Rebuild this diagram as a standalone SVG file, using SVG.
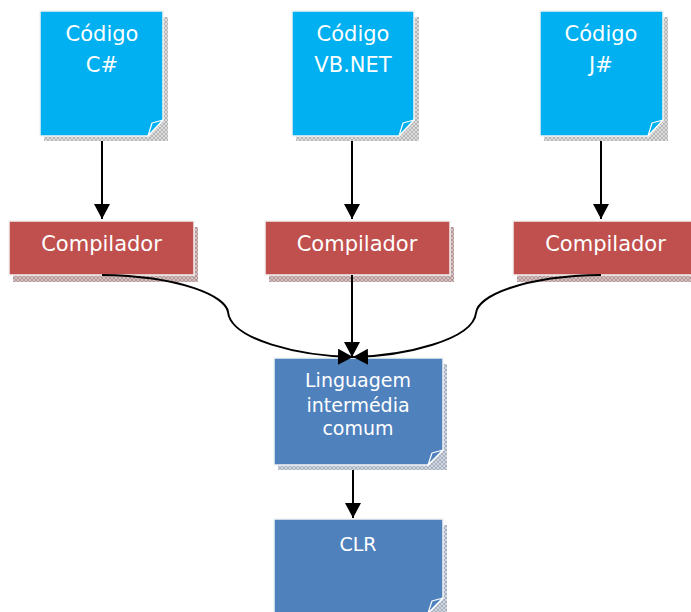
<svg xmlns="http://www.w3.org/2000/svg" width="691" height="612" viewBox="0 0 691 612">
<defs>
<pattern id="hGray" width="4" height="4" patternUnits="userSpaceOnUse"><rect width="4" height="4" fill="#dcdcdc"/><path d="M0,0 L4,4 M4,0 L0,4" stroke="#a8a8a8" stroke-width="0.7"/></pattern>
<pattern id="hRed" width="4" height="4" patternUnits="userSpaceOnUse"><rect width="4" height="4" fill="#d4c0c0"/><path d="M0,0 L4,4 M4,0 L0,4" stroke="#a88888" stroke-width="0.7"/></pattern>
<pattern id="hBlue" width="4" height="4" patternUnits="userSpaceOnUse"><rect width="4" height="4" fill="#d0d6e0"/><path d="M0,0 L4,4 M4,0 L0,4" stroke="#9aa4b4" stroke-width="0.7"/></pattern>
<marker id="ah" markerWidth="16" markerHeight="16" refX="15" refY="8" orient="auto" markerUnits="userSpaceOnUse"><path d="M0,0 L15,8 L0,16 Z" fill="#000"/></marker>
</defs>
<style>
.doc{fill:#00b0f0;stroke:#f4f4f4;stroke-width:1.5}
.cmp{fill:#c0504d;stroke:#f4f4f4;stroke-width:1.5}
.il{fill:#4f81bd;stroke:#f4f4f4;stroke-width:1.5}
.t{font-family:"DejaVu Sans",sans-serif;fill:#ffffff;text-anchor:middle}
.t1{font-size:21px}
.t2{font-size:19px}
.ln{fill:none;stroke:#000;stroke-width:2;marker-end:url(#ah)}
.flap{stroke:#ffffff;stroke-width:1.2;stroke-linejoin:round}
</style>

<g id="doc-cs">
<path d="M44,17 H168 V141 H44 Z" fill="url(#hGray)"/>
<path class="doc" d="M40,11 H163 V120 L148,136 H40 Z"/>
<path class="flap" d="M148,136 L152,123 L163,120 Z" fill="#00b0f0"/>
<text class="t t1" x="102" y="41">Código</text>
<text class="t t1" x="102" y="72">C#</text>
</g>

<g id="doc-vb">
<path d="M296,17 H419 V141 H296 Z" fill="url(#hGray)"/>
<path class="doc" d="M292,11 H414 V120 L399,136 H292 Z"/>
<path class="flap" d="M399,136 L403,123 L414,120 Z" fill="#00b0f0"/>
<text class="t t1" x="353" y="41">Código</text>
<text class="t t1" x="353" y="72">VB.NET</text>
</g>

<g id="doc-js">
<path d="M544,17 H668 V141 H544 Z" fill="url(#hGray)"/>
<path class="doc" d="M540,11 H663 V120 L648,136 H540 Z"/>
<path class="flap" d="M648,136 L652,123 L663,120 Z" fill="#00b0f0"/>
<text class="t t1" x="601" y="41">Código</text>
<text class="t t1" x="601" y="72">J#</text>
</g>

<g id="comp1">
<rect x="13" y="227" width="185" height="55" fill="url(#hRed)"/>
<rect class="cmp" x="9" y="221" width="185" height="54"/>
<text class="t t1" x="101.5" y="251">Compilador</text>
</g>

<g id="comp2">
<rect x="269" y="227" width="185" height="55" fill="url(#hRed)"/>
<rect class="cmp" x="265" y="221" width="185" height="54"/>
<text class="t t1" x="357" y="251">Compilador</text>
</g>

<g id="comp3">
<rect x="517" y="227" width="185" height="55" fill="url(#hRed)"/>
<rect class="cmp" x="513" y="221" width="185" height="54"/>
<text class="t t1" x="605.5" y="251">Compilador</text>
</g>

<g id="il">
<path d="M278,364 H447 V470 H278 Z" fill="url(#hBlue)"/>
<path class="il" d="M274,358 H443 V450 L428,465 H274 Z"/>
<path class="flap" d="M428,465 L432,453 L443,450 Z" fill="#4f81bd"/>
<text class="t t2" x="358" y="387">Linguagem</text>
<text class="t t2" x="358" y="412">intermédia</text>
<text class="t t2" x="358" y="435">comum</text>
</g>

<g id="clr">
<path d="M278,525 H447 V620 H278 Z" fill="url(#hBlue)"/>
<path class="il" d="M274,519 H443 V598 L428,613 H274 Z"/>
<path class="flap" d="M428,613 L432,601 L443,598 Z" fill="#4f81bd"/>
<text class="t t2" x="358" y="551">CLR</text>
</g>

<g id="connectors">
<path class="ln" d="M102,141 V219"/>
<path class="ln" d="M352,141 V219"/>
<path class="ln" d="M601,141 V219"/>
<path class="ln" d="M102,275 C180,276 226,296 228,312 C231,340 300,356 353,357"/>
<path class="ln" d="M352,275 V357"/>
<path class="ln" d="M601,275 C523,276 478,296 476,313 C473,340 404,356 353,357"/>
<path class="ln" d="M353,470 V518"/>
</g>
</svg>
